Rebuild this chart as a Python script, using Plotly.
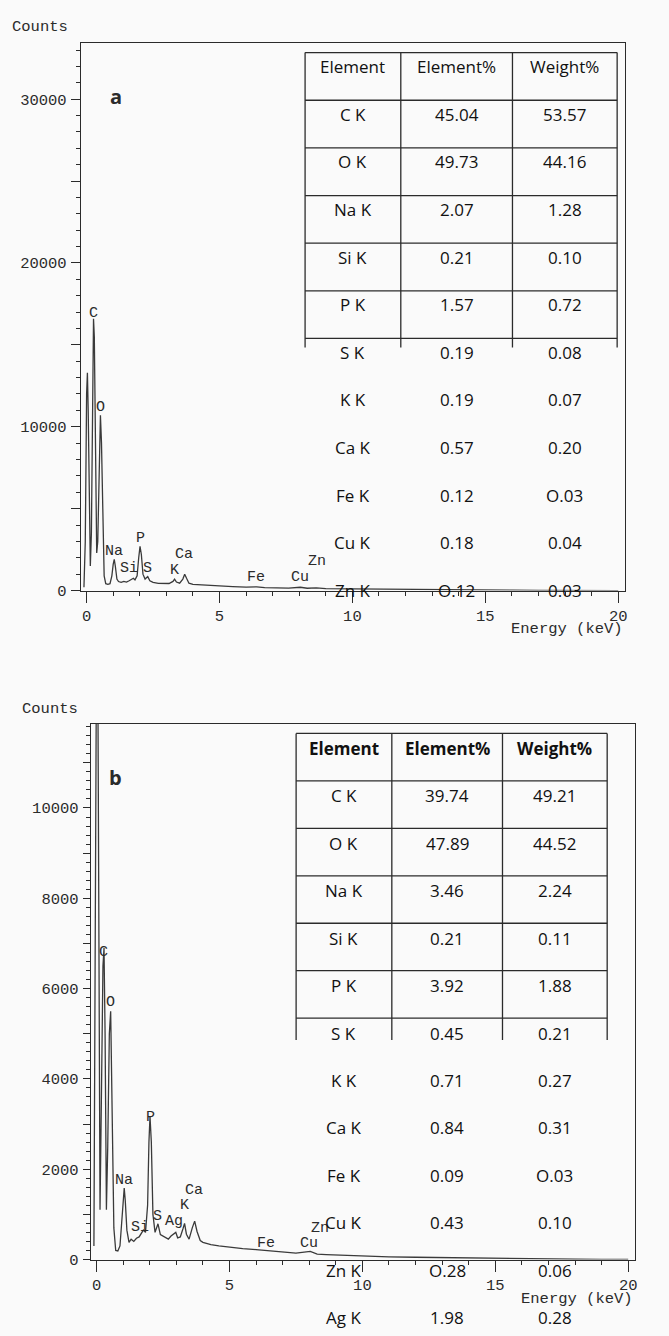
import plotly.graph_objects as go

W, H = 669, 1336

# ---- spectrum (a) ----
energy_a = [-0.10, -0.05, 0.00, 0.03, 0.06, 0.10, 0.14, 0.18, 0.22, 0.26, 0.29, 0.33, 0.38,
            0.42, 0.47, 0.52, 0.56, 0.61, 0.66, 0.72, 0.80, 0.88, 0.95, 1.00, 1.04, 1.08,
            1.14, 1.20, 1.30, 1.40, 1.50, 1.60, 1.70, 1.76, 1.82, 1.90, 1.96, 2.01, 2.06,
            2.12, 2.20, 2.30, 2.38, 2.50, 2.70, 2.90, 3.10, 3.25, 3.31, 3.38, 3.50, 3.62,
            3.69, 3.76, 3.85, 4.00, 4.50, 5.00, 5.50, 6.00, 6.40, 6.70, 7.20, 7.60, 8.04,
            8.30, 8.64, 9.00, 10.0, 11.0, 12.0, 13.0, 14.0, 15.0, 16.0, 17.0, 18.0, 19.0, 20.0]
counts_a = [200, 3000, 12000, 13300, 11000, 5000, 1500, 3500, 11000, 16600, 15500, 8000, 2300,
            3000, 8000, 10700, 9000, 3500, 900, 420, 380, 420, 900, 1600, 1900, 1500,
            700, 550, 500, 560, 520, 600, 700, 750, 650, 900, 2000, 2700, 2200,
            1000, 700, 850, 600, 500, 440, 420, 430, 560, 700, 520, 450, 700,
            1000, 750, 450, 380, 320, 260, 240, 210, 230, 180, 160, 150, 200,
            140, 160, 120, 100, 80, 70, 60, 40, 30, 20, 15, 10, 5, 0]

# ---- spectrum (b) ----
energy_b = [-0.10, -0.05, 0.00, 0.04, 0.08, 0.13, 0.18, 0.24, 0.28, 0.32, 0.37, 0.42, 0.48,
            0.53, 0.58, 0.65, 0.72, 0.80, 0.88, 0.95, 1.00, 1.04, 1.08, 1.14, 1.22, 1.30,
            1.40, 1.50, 1.60, 1.70, 1.76, 1.84, 1.92, 1.97, 2.01, 2.06, 2.12, 2.20, 2.31,
            2.40, 2.50, 2.60, 2.70, 2.80, 2.98, 3.05, 3.15, 3.25, 3.31, 3.38, 3.48, 3.60,
            3.69, 3.78, 3.90, 4.00, 4.30, 4.60, 5.00, 5.50, 6.00, 6.40, 7.00, 7.50, 8.04,
            8.30, 8.64, 9.00, 10.0, 11.0, 12.0, 13.0, 14.0, 15.0, 16.0, 17.0, 18.0, 19.0, 20.0]
counts_b = [300, 6000, 14000, 14000, 7000, 1100, 3500, 6500, 6900, 5000, 1100, 2500, 5000,
            5500, 3500, 700, 200, 190, 300, 800, 1300, 1580, 1300, 650, 380, 450,
            400, 470, 500, 600, 650, 600, 1200, 2600, 3170, 2600, 1000, 600, 790,
            550, 520, 480, 450, 520, 600, 480, 500, 680, 800, 560, 450, 700,
            850, 620, 420, 380, 330, 300, 270, 240, 220, 200, 160, 140, 180,
            120, 110, 100, 80, 60, 50, 40, 30, 20, 15, 10, 5, 3, 0]

# peak labels
peaks_a = ["C", "O", "Na", "Si", "S", "P", "K", "Ca", "Fe", "Cu", "Zn"]
peak_x_a = [0.27, 0.53, 1.02, 1.59, 2.28, 2.03, 3.30, 3.68, 6.39, 8.03, 8.67]
peak_y_a = [16900, 11150, 2360, 1330, 1330, 3150, 1210, 2180, 790, 790, 1760]

peaks_b = ["C", "O", "Na", "Si", "S", "P", "Ag", "K", "Ca", "Fe", "Cu", "Zn"]
peak_x_b = [0.27, 0.52, 1.05, 1.65, 2.29, 2.02, 2.92, 3.30, 3.68, 6.39, 8.00, 8.42]
peak_y_b = [6800, 5700, 1750, 700, 950, 3140, 840, 1190, 1530, 350, 350, 690]

x_ticks = [0, 5, 10, 15, 20]
x_ticktext = ["0", "5", "10", "15", "20"]
y_ticks_a = [0, 5000, 10000, 15000, 20000, 25000, 30000]
y_ticktext_a = ["0", "", "10000", "", "20000", "", "30000"]
y_ticks_b = [0, 1000, 2000, 3000, 4000, 5000, 6000, 7000, 8000, 9000, 10000, 11000]
y_ticktext_b = ["0", "", "2000", "", "4000", "", "6000", "", "8000", "", "10000", ""]

# tables
header = ["Element", "Element%", "Weight%"]
elements_a = ["C K", "O K", "Na K", "Si K", "P K", "S K", "K K", "Ca K", "Fe K", "Cu K", "Zn K"]
elem_pct_a = ["45.04", "49.73", "2.07", "0.21", "1.57", "0.19", "0.19", "0.57", "0.12", "0.18", "O.12"]
weight_pct_a = ["53.57", "44.16", "1.28", "0.10", "0.72", "0.08", "0.07", "0.20", "O.03", "0.04", "0.03"]

elements_b = ["C K", "O K", "Na K", "Si K", "P K", "S K", "K K", "Ca K", "Fe K", "Cu K", "Zn K", "Ag K"]
elem_pct_b = ["39.74", "47.89", "3.46", "0.21", "3.92", "0.45", "0.71", "0.84", "0.09", "0.43", "O.28", "1.98"]
weight_pct_b = ["49.21", "44.52", "2.24", "0.11", "1.88", "0.21", "0.27", "0.31", "O.03", "0.10", "0.06", "0.28"]

INK = "#2b2b2b"
MONO = "Liberation Mono, Courier New, monospace"
SANS = "Open Sans, Noto Sans, sans-serif"


def px(x):
    return x / W


def py(y):
    return 1 - y / H


fig = go.Figure()
fig.add_trace(go.Scatter(x=energy_a, y=counts_a, mode="lines", xaxis="x", yaxis="y",
                         line=dict(color="#3a3a3a", width=1.3), showlegend=False))
fig.add_trace(go.Scatter(x=energy_b, y=counts_b, mode="lines", xaxis="x2", yaxis="y2",
                         line=dict(color="#3a3a3a", width=1.3), showlegend=False))


def xaxis(left, right, anchor):
    return dict(domain=[px(left), px(right)], anchor=anchor, range=[-0.22, 20.26],
                tickmode="array", tickvals=x_ticks, ticktext=x_ticktext,
                ticks="outside", ticklen=11, tickwidth=1, tickcolor=INK,
                minor=dict(tickmode="linear", tick0=0, dtick=1, ticks="outside", ticklen=4, tickcolor=INK),
                showline=True, linecolor=INK, linewidth=1, mirror=True, ticklabelstandoff=0,
                showgrid=False, zeroline=False, tickfont=dict(family=MONO, size=15.5, color=INK))


def yaxis(top, bottom, anchor, rng, vals, text, minor_dt, major_len, minor_len):
    return dict(domain=[py(bottom), py(top)], anchor=anchor, range=rng,
                tickmode="array", tickvals=vals, ticktext=text,
                ticks="outside", ticklen=major_len, tickwidth=1, tickcolor=INK,
                minor=dict(tickmode="linear", tick0=0, dtick=minor_dt, ticks="outside",
                           ticklen=minor_len, tickcolor=INK),
                showline=True, linecolor=INK, linewidth=1, mirror=True,
                showgrid=False, zeroline=False, ticklabelstandoff=1,
                tickfont=dict(family=MONO, size=15.5, color=INK))


annotations = []
shapes = []

for name, x, y in zip(peaks_a, peak_x_a, peak_y_a):
    annotations.append(dict(x=x, y=y, xref="x", yref="y", text=name, showarrow=False,
                            xanchor="center", yanchor="middle",
                            font=dict(family=MONO, size=15, color=INK)))
for name, x, y in zip(peaks_b, peak_x_b, peak_y_b):
    annotations.append(dict(x=x, y=y, xref="x2", yref="y2", text=name, showarrow=False,
                            xanchor="center", yanchor="middle",
                            font=dict(family=MONO, size=15, color=INK)))


def add_text(x, y, text, size=15.5, family=MONO, xanchor="left"):
    annotations.append(dict(x=px(x), y=py(y), xref="paper", yref="paper", text=text,
                            showarrow=False, xanchor=xanchor, yanchor="middle",
                            font=dict(family=family, size=size, color=INK)))


def add_table(cols, top, rh, boxed_rows, stub, head_bold, rows, text_off):
    c = INK
    for k in range(boxed_rows + 1):
        yy = top + k * rh
        shapes.append(dict(type="line", xref="paper", yref="paper", x0=px(cols[0]), x1=px(cols[-1]),
                           y0=py(yy), y1=py(yy), line=dict(color=c, width=1.3)))
    for xx in cols:
        shapes.append(dict(type="line", xref="paper", yref="paper", x0=px(xx), x1=px(xx),
                           y0=py(top), y1=py(top + boxed_rows * rh + stub), line=dict(color=c, width=1.3)))
    centers = [(cols[i] + cols[i + 1]) / 2 for i in range(3)]
    for i, h in enumerate(header):
        txt = "<b>%s</b>" % h if head_bold else h
        annotations.append(dict(x=px(centers[i]), y=py(top + text_off), xref="paper", yref="paper",
                                xanchor="center", yanchor="middle",
                                text=txt, showarrow=False, font=dict(family=SANS, size=17, color="#111")))
    for r, row in enumerate(rows):
        for i, v in enumerate(row):
            annotations.append(dict(x=px(centers[i]), y=py(top + text_off + (r + 1) * rh),
                                    xref="paper", yref="paper", xanchor="center", yanchor="middle",
                                    text=v, showarrow=False,
                                    font=dict(family=SANS, size=17, color="#111")))


add_table([306, 402, 514, 619], 53, 48, 6, 9, False,
          list(zip(elements_a, elem_pct_a, weight_pct_a)), 14)
add_table([297, 393, 504, 609], 739, 47.8, 6, 22, True,
          list(zip(elements_b, elem_pct_b, weight_pct_b)), 15)

# axis titles and panel letters
add_text(10, 27, "Counts")
add_text(511, 634, "Energy (keV)")
add_text(20, 714, "Counts")
add_text(521, 1309, "Energy (keV)")
add_text(116, 97, "<b>a</b>", size=20, family=SANS, xanchor="center")
add_text(116, 783, "<b>b</b>", size=20, family=SANS, xanchor="center")

fig.update_layout(
    width=W, height=H,
    margin=dict(l=0, r=0, t=0, b=0),
    paper_bgcolor="#fafafa", plot_bgcolor="#fafafa",
    xaxis=xaxis(81, 627, "y"),
    yaxis=yaxis(43, 595, "x", [0, 33450], y_ticks_a, y_ticktext_a, 1000, 9, 4),
    xaxis2=xaxis(91, 637, "y2"),
    yaxis2=yaxis(729, 1269, "x2", [0, 11870], y_ticks_b, y_ticktext_b, 200, 7, 4),
    annotations=annotations,
    shapes=shapes,
    showlegend=False,
)

# page body has a default 8px margin; remove it so the figure sits at the window origin
fig.write_html("out.html", config={"displayModeBar": False},
               post_script="document.body.style.margin='0px';")
